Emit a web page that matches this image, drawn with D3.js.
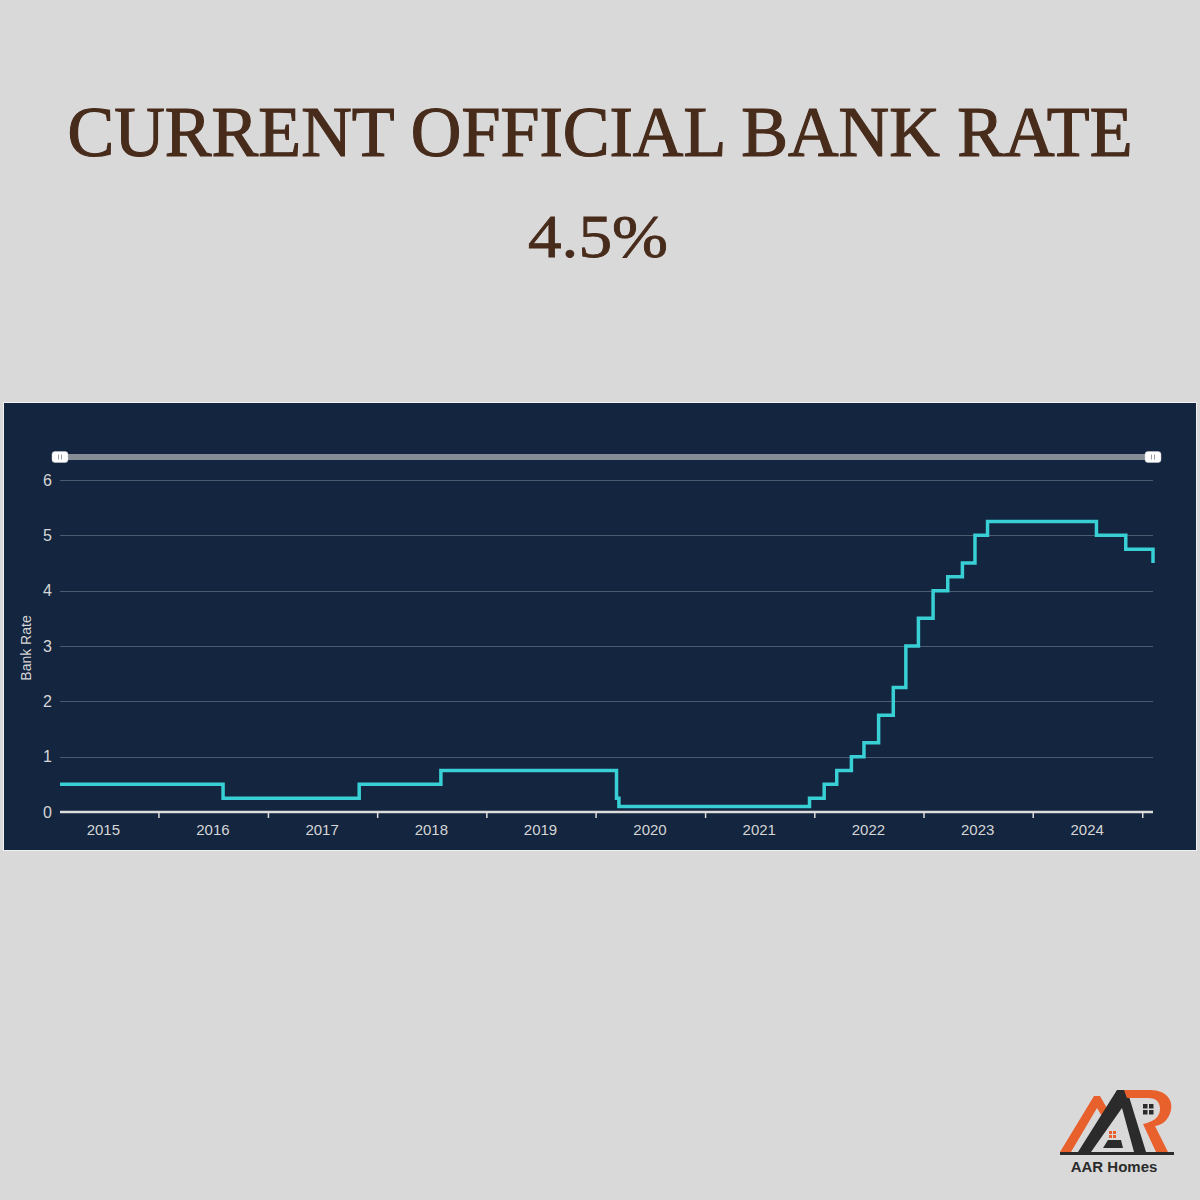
<!DOCTYPE html>
<html>
<head>
<meta charset="utf-8">
<script src="https://cdn.jsdelivr.net/npm/d3@7/dist/d3.min.js"></script>
<style>
	body { margin: 0; background: #d9d9d9; }
	svg { display: block; }
</style>
</head>
<body>
<div id="chart"></div>
<script>
// Bank Rate change dates and new rate (%)
var changeDates = ["2015-02-06","2016-08-04","2017-11-02","2018-08-02","2020-03-11","2020-03-19",
	"2021-12-16","2022-02-03","2022-03-17","2022-05-05","2022-06-16","2022-08-04","2022-09-22",
	"2022-11-03","2022-12-15","2023-02-02","2023-03-23","2023-05-11","2023-06-22","2023-08-03",
	"2024-08-01","2024-11-07","2025-02-06"];
var rates = [0.5,0.25,0.5,0.75,0.25,0.1,
	0.25,0.5,0.75,1,1.25,1.75,2.25,
	3,3.5,4,4.25,4.5,5,5.25,
	5,4.75,4.5];
var yearLabels = ["2015","2016","2017","2018","2019","2020","2021","2022","2023","2024"];
var yTicks = [0,1,2,3,4,5,6];
var titleText = "CURRENT OFFICIAL BANK RATE";
var currentRate = "4.5%";

(function(){
	var width = 1200, height = 1200;
	var parse = d3.timeParse("%Y-%m-%d");
	var data = changeDates.map(function(d, i){ return {date: parse(d), rate: rates[i]}; });

	var svg = d3.select("#chart").append("svg")
		.attr("width", width)
		.attr("height", height);

	svg.append("rect").attr("width", width).attr("height", height).attr("fill", "#d9d9d9");

	// Headline (thin stroke to get the heavier serif look)
	svg.append("text")
		.attr("x", 600).attr("y", 156)
		.attr("text-anchor", "middle")
		.attr("textLength", 1065)
		.attr("lengthAdjust", "spacingAndGlyphs")
		.style("font-family", "'Liberation Serif', 'DejaVu Serif', serif")
		.style("font-size", "72px")
		.attr("fill", "#472b1b")
		.attr("stroke", "#472b1b")
		.attr("stroke-width", 1.2)
		.text(titleText);
	svg.append("text")
		.attr("x", 598).attr("y", 257)
		.attr("text-anchor", "middle")
		.attr("textLength", 140)
		.attr("lengthAdjust", "spacingAndGlyphs")
		.style("font-family", "'Liberation Serif', 'DejaVu Serif', serif")
		.style("font-size", "61px")
		.attr("fill", "#472b1b")
		.attr("stroke", "#472b1b")
		.attr("stroke-width", 0.8)
		.text(currentRate);

	// Chart panel
	svg.append("rect")
		.attr("x", 3.5).attr("y", 402.5)
		.attr("width", 1193).attr("height", 448)
		.attr("fill", "#13253f")
		.attr("stroke", "#f2f2f2")
		.attr("stroke-width", 1);

	var pLeft = 60, pRight = 1153, pTop = 480, pBottom = 812;

	var x = d3.scaleTime()
		.domain([data[0].date, data[data.length - 1].date])
		.range([pLeft, pRight]);
	var y = d3.scaleLinear()
		.domain([0, 6])
		.range([pBottom, pTop]);

	// Gridlines and y labels
	svg.append("g").attr("class", "grid")
		.selectAll("line")
		.data(yTicks.filter(function(d){ return d > 0; }))
		.enter().append("line")
		.attr("x1", pLeft).attr("x2", pRight)
		.attr("y1", function(d){ return Math.round(y(d)) + 0.5; })
		.attr("y2", function(d){ return Math.round(y(d)) + 0.5; })
		.attr("stroke", "#4b5a6e")
		.attr("stroke-width", 1.2);

	var yAxis = d3.axisLeft(y).tickValues(yTicks).tickFormat(d3.format("d")).tickSize(0).tickPadding(8);
	svg.append("g")
		.attr("transform", "translate(" + pLeft + ",0)")
		.call(yAxis)
		.call(function(g){ g.select(".domain").remove(); })
		.selectAll("text")
		.attr("fill", "#d6d6d6")
		.style("font-family", "'Liberation Sans', Arial, sans-serif")
		.style("font-size", "16px");

	svg.append("text")
		.attr("transform", "translate(31,648) rotate(-90)")
		.attr("text-anchor", "middle")
		.attr("fill", "#d6d6d6")
		.style("font-family", "'Liberation Sans', Arial, sans-serif")
		.style("font-size", "14px")
		.text("Bank Rate");

	// X axis: ticks at year boundaries, labels mid-year
	var yearStarts = yearLabels.map(function(d){ return new Date(+d + 1, 0, 1); })
		.filter(function(d){ return d < x.domain()[1]; });
	var xAxis = d3.axisBottom(x).tickValues(yearStarts).tickSize(6).tickFormat("");
	var xg = svg.append("g")
		.attr("transform", "translate(0," + pBottom + ")")
		.call(xAxis);
	xg.select(".domain").attr("stroke", "#dcdcdc").attr("stroke-width", 2.5).attr("d", "M" + pLeft + ",0H" + pRight);
	xg.selectAll(".tick line").attr("stroke", "#dcdcdc").attr("stroke-width", 1.5);

	svg.append("g").selectAll("text")
		.data(yearLabels)
		.enter().append("text")
		.attr("x", function(d){ return x(new Date(+d, 6, 1)); })
		.attr("y", 835)
		.attr("text-anchor", "middle")
		.attr("fill", "#d6d6d6")
		.style("font-family", "'Liberation Sans', Arial, sans-serif")
		.style("font-size", "15px")
		.text(function(d){ return d; });

	// Range slider
	svg.append("rect")
		.attr("x", pLeft).attr("y", 454)
		.attr("width", pRight - pLeft).attr("height", 6)
		.attr("fill", "#868d96");
	x.range().forEach(function(px){
		var h = svg.append("g").attr("transform", "translate(" + px + ",457)");
		h.append("rect")
			.attr("x", -8).attr("y", -5.5)
			.attr("width", 16).attr("height", 11)
			.attr("rx", 3)
			.attr("fill", "#ffffff")
			.attr("stroke", "#cfcfcf")
			.attr("stroke-width", 0.5);
		h.selectAll("line").data([-1.5, 1.5]).enter().append("line")
			.attr("x1", function(d){ return d; }).attr("x2", function(d){ return d; })
			.attr("y1", -2.5).attr("y2", 2.5)
			.attr("stroke", "#999").attr("stroke-width", 1);
	});

	// Rate line
	var line = d3.line()
		.x(function(d){ return x(d.date); })
		.y(function(d){ return y(d.rate); })
		.curve(d3.curveStepAfter);
	svg.append("path")
		.datum(data)
		.attr("d", line)
		.attr("fill", "none")
		.attr("stroke", "#38d0d5")
		.attr("stroke-width", 3.5)
		.attr("stroke-linejoin", "miter");

	// Logo
	var logo = svg.append("g").attr("class", "logo");
	logo.append("path")
		.attr("d", "M1060,1152 L1094,1096 L1100,1096 L1108,1110 L1103,1118 L1097,1108 L1071,1152 Z")
		.attr("fill", "#e8602c");
	logo.append("path")
		.attr("d", "M1078,1152 L1117,1090 L1127,1090 L1146,1152 L1134,1152 L1122,1108 L1091,1152 Z")
		.attr("fill", "#2b2b2b");
	logo.append("path")
		.attr("d", "M1103,1148 L1123,1148 L1121,1140 L1108,1140 Z")
		.attr("fill", "#2b2b2b");
	logo.append("path")
		.attr("d", "M1124,1090 L1150,1090 C1168,1090 1173,1102 1171,1110 C1169,1120 1162,1125 1155,1126 L1168,1152 L1156,1152 L1143,1124 C1152,1122 1160,1118 1160,1109 C1160,1101 1155,1098 1148,1098 L1127,1098 Z")
		.attr("fill", "#e8602c");
	[[1143,1104],[1149,1104],[1143,1110],[1149,1110]].forEach(function(p){
		logo.append("rect").attr("x", p[0]).attr("y", p[1]).attr("width", 4.5).attr("height", 4.5).attr("fill", "#2b2b2b");
	});
	[[1109,1131],[1113,1131],[1109,1135],[1113,1135]].forEach(function(p){
		logo.append("rect").attr("x", p[0]).attr("y", p[1]).attr("width", 3).attr("height", 3).attr("fill", "#e8602c");
	});
	logo.append("rect").attr("x", 1060).attr("y", 1152).attr("width", 114).attr("height", 3).attr("fill", "#2b2b2b");
	logo.append("text")
		.attr("x", 1114).attr("y", 1172)
		.attr("text-anchor", "middle")
		.attr("fill", "#2b2b2b")
		.style("font-family", "'Liberation Sans', Arial, sans-serif")
		.style("font-weight", "bold")
		.style("font-size", "15px")
		.text("AAR Homes");
})();
</script>
</body>
</html>
